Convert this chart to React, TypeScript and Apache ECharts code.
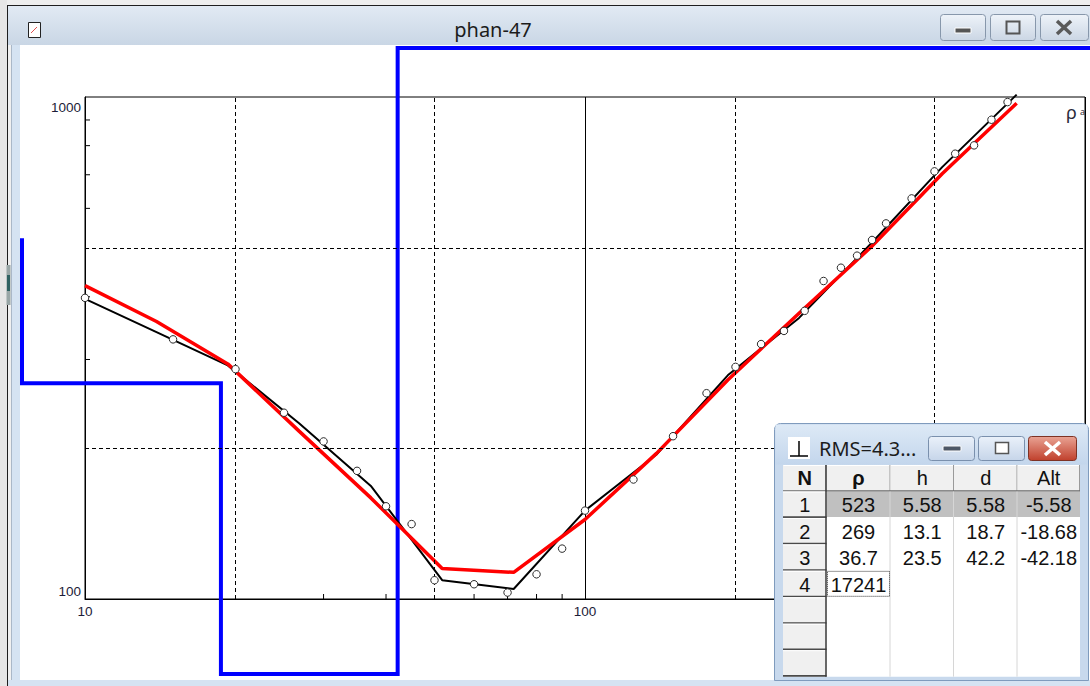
import React, { useEffect, useRef } from "react";
import * as echarts from "echarts";

// ---- Field data: AB/2 (m) and apparent resistivity (observed points) ----
const abHalf = [10, 15, 20, 25, 30, 35, 40, 45, 50, 60, 70, 80, 90, 100, 125, 150, 175, 200, 225, 250, 275, 300, 325, 350, 375, 400, 450, 500, 550, 600, 650, 700];
const rhoObserved = [398, 329, 287, 235, 206, 180, 153, 141, 109, 107, 103, 112, 126, 150, 173, 211, 257, 290, 322, 342, 375, 430, 457, 483, 519, 560, 628, 711, 771, 801, 901, 977];

// ---- Resampled curves (black = field curve, red = model curve) ----
const curveAb = [10, 13.9, 19.3, 26.8, 37.3, 51.8, 72, 100, 139, 193, 268, 373, 518, 730];
const rhoField = [396, 340, 292, 224, 168, 109, 104.7, 150, 194, 279, 363, 510, 725, 1011];
const rhoModel = [421, 357, 294, 216, 159, 115, 113, 144, 195, 273, 371, 502, 703, 972];

// ---- Layered model ----
const layerRho = [523, 269, 36.7, 17241];
const layerH = [5.58, 13.1, 23.5];
const layerD = [5.58, 18.7, 42.2];
const layerAlt = [-5.58, -18.68, -42.18];
const layerStartDepth = 1;
const layerEndDepth = 100000;

// ---- Axes decorations ----
const xMinorTicks = [30, 40, 60, 70, 80, 90, 300, 400, 600, 700, 800, 900];
const yMinorTicks = [300, 400, 600, 700, 800, 900];
const xDashed = [20, 50, 200, 500];
const yDashed = [200, 500];

// ---- Texts ----
const windowTitle = "phan-47";
const rmsTitle = "RMS=4.3...";
const tableHeaders = ["N", "ρ", "h", "d", "Alt"];
const rowNumbers = ["1", "2", "3", "4"];
const axisName = "ρ";
const axisNameSub = "a";

const SANS = '"Noto Sans", "DejaVu Sans", sans-serif';
const NARROW = '"Liberation Sans Narrow", "Liberation Sans", sans-serif';
const LABEL = '"Liberation Sans", "DejaVu Sans", sans-serif';

function buildGraphic(): any[] {
  const els: any[] = [];
  let z2 = 0;
  const push = (el: any) => {
    el.z = 100;
    el.z2 = z2++;
    el.silent = true;
    els.push(el);
  };
  const grad = (a: string, b: string) =>
    new echarts.graphic.LinearGradient(0, 0, 0, 1, [
      { offset: 0, color: a },
      { offset: 1, color: b },
    ]);
  const R = (x: number, y: number, w: number, h: number, fill: any, stroke?: string, r?: any, lw?: number) =>
    push({ type: "rect", shape: { x, y, width: w, height: h, r: r || 0 }, style: { fill, stroke: stroke || undefined, lineWidth: lw || 1 } });
  const L = (x1: number, y1: number, x2: number, y2: number, stroke: string, lw = 1, dash?: number[]) =>
    push({ type: "line", shape: { x1, y1, x2, y2 }, style: { stroke, lineWidth: lw, lineDash: dash } });
  const T = (x: number, y: number, text: string, size: number, family: string, fill = "#1a1a1a", weight = "normal", align = "center") =>
    push({
      type: "text",
      x,
      y,
      style: {
        text,
        fontSize: size,
        fontFamily: family,
        fontWeight: weight,
        fill,
        align,
        verticalAlign: "middle",
        textAlign: align,
        textVerticalAlign: "middle",
      },
    });

  // ---- main window chrome ----
  R(0, 0, 1090, 5, "#eeeeee");
  R(0, 0, 7, 686, "#e6e6e6");
  R(7, 5, 1083, 40, grad("#e2eaf4", "#c9d6e5"));
  L(7, 5.5, 1090, 5.5, "#1e1e1e", 1);
  L(7.5, 5, 7.5, 686, "#1e1e1e", 1);
  R(8, 45, 12, 641, "#d5e3f2");
  R(8, 45, 3, 641, "#f0f0f0");
  L(11.5, 45, 11.5, 686, "#aab8c8", 1);
  R(8, 680, 1082, 6, "#d5e3f2");
  R(6.5, 265, 4, 40, "#98a6a6");
  R(7, 275, 3, 16, "#2f6262");
  // icon
  R(28.5, 22.5, 12, 15, "#ffffff", "#222222", 0, 1);
  L(31, 33, 37, 27, "#e05050", 1);
  // title
  T(493, 29, windowTitle, 20, SANS, "#1c1c1c");
  // caption buttons
  const btnFill = grad("#eef3f9", "#cbd6e4");
  R(940.5, 14.5, 45, 26, btnFill, "#8797ab", 3, 1);
  R(990.5, 14.5, 45, 26, btnFill, "#8797ab", 3, 1);
  R(1040.5, 14.5, 48, 26, btnFill, "#8797ab", 3, 1);
  R(955, 28, 16, 5, "#555555", "#ffffff", 0, 1);
  R(1006.5, 21.5, 13, 12, "none", "#555555", 0, 2);
  L(1057, 21, 1071, 34, "#5a5a5a", 3.5);
  L(1071, 21, 1057, 34, "#5a5a5a", 3.5);

  // ---- y-axis name ----
  T(1071.5, 112, axisName, 18, SANS, "#2a2a3a");
  T(1082.5, 111.5, axisNameSub, 9, SANS, "#2a2a3a");

  // ---- RMS table window ----
  R(774.5, 423.5, 314, 257, "#c8d9ed", "#7f9bbd", [6, 6, 0, 0], 1);
  R(775.5, 424.5, 312, 40, grad("#dde9f6", "#c3d6ec"));
  // icon
  R(788, 437, 22, 22, "#ffffff");
  L(799, 441, 799, 456, "#000000", 1.5);
  L(790, 456, 808, 456, "#000000", 1.5);
  T(819, 448, rmsTitle, 20, SANS, "#1c1c1c", "normal", "left");
  // buttons
  const smallBtn = grad("#eaf1fa", "#c6d5e9");
  R(928.5, 436.5, 46, 24, smallBtn, "#7a90ad", 3, 1);
  R(978.5, 436.5, 46, 24, smallBtn, "#7a90ad", 3, 1);
  R(1028.5, 436.5, 48, 24, grad("#e9a394", "#c0402c"), "#7e3224", 3, 1);
  R(943, 446, 18, 5, "#4d5766", "#ffffff", 1, 1);
  R(995.5, 442.5, 13, 11, "#ffffff", "#555555", 0, 1.5);
  L(1045, 442, 1060, 455, "#ffffff", 3.5);
  L(1060, 442, 1045, 455, "#ffffff", 3.5);

  // table body
  const colX = [783, 826.5, 890.5, 954, 1017.5, 1080];
  const headTop = 465;
  const rowTop0 = 491.5;
  const rowH = 26.45;
  const nRows = 7;
  const bottom = rowTop0 + rowH * nRows;
  R(colX[0], headTop, colX[5] - colX[0], bottom - headTop, "#ffffff");
  // header cells
  for (let c = 0; c < 5; c++) {
    R(colX[c], headTop, colX[c + 1] - colX[c], rowTop0 - headTop, "#f0f0f0");
    L(colX[c] + 0.5, headTop + 0.5, colX[c + 1] - 1, headTop + 0.5, "#ffffff", 1);
    L(colX[c + 1] - 0.5, headTop, colX[c + 1] - 0.5, rowTop0, "#9a9a9a", 1);
  }
  L(colX[0], rowTop0 - 0.5, colX[5], rowTop0 - 0.5, "#6a6a6a", 1.5);
  // selected row
  R(colX[1], rowTop0, colX[5] - colX[1], rowH - 1, "#c0c0c0");
  // data column separators
  for (let c = 2; c < 5; c++) L(colX[c] - 0.5, rowTop0, colX[c] - 0.5, bottom, "#d6d6d6", 1);
  // N column cells
  for (let r = 0; r < nRows; r++) {
    const y = rowTop0 + r * rowH;
    R(colX[0], y, colX[1] - colX[0], rowH, "#f0f0f0");
    L(colX[0], y + 0.5, colX[1] - 1, y + 0.5, "#ffffff", 1);
    L(colX[0], y + rowH - 0.8, colX[1], y + rowH - 0.8, "#4a4a4a", 1.6);
  }
  L(colX[1] - 0.5, headTop, colX[1] - 0.5, bottom, "#3a3a3a", 1.5);
  // header texts
  const hc = (headTop + rowTop0) / 2;
  tableHeaders.forEach((h, c) => T((colX[c] + colX[c + 1]) / 2, hc, h, 20, NARROW, "#111111", c <= 1 ? "bold" : "normal"));
  // rows
  for (let r = 0; r < layerRho.length; r++) {
    const cy = rowTop0 + rowH * (r + 0.5);
    const cells = [
      rowNumbers[r],
      String(layerRho[r]),
      r < layerH.length ? String(layerH[r]) : "",
      r < layerD.length ? String(layerD[r]) : "",
      r < layerAlt.length ? String(layerAlt[r]) : "",
    ];
    cells.forEach((t, c) => {
      if (t) T((colX[c] + colX[c + 1]) / 2, cy + 0.5, t, 20, NARROW, "#111111");
    });
  }
  // focus cell
  const fy = rowTop0 + rowH * 3;
  R(colX[1] + 1, fy + 0.5, colX[2] - colX[1] - 2, rowH - 1.5, "none", "#333333", 0, 1);
  els[els.length - 1].style.lineDash = [1, 1];

  return els;
}

function buildOption(): any {
  const labelColor = "#1c1c38";
  const fs = 13.5;
  return {
    animation: false,
    backgroundColor: "#ffffff",
    textStyle: { fontFamily: SANS },
    grid: { left: 85, top: 97, width: 1000, height: 502, show: true, borderColor: "#000000", borderWidth: 1, backgroundColor: "transparent" },
    xAxis: {
      type: "log",
      logBase: 10,
      min: 10,
      max: 1000,
      axisLine: { show: true, lineStyle: { color: "#000000", width: 1 } },
      axisTick: { show: false },
      splitLine: { show: true, lineStyle: { color: "#000000", width: 1 } },
      axisLabel: { show: true, margin: 5, fontSize: fs, fontFamily: LABEL, color: labelColor, showMaxLabel: false },
    },
    yAxis: {
      type: "log",
      logBase: 10,
      min: 100,
      max: 1000,
      axisLine: { show: true, lineStyle: { color: "#000000", width: 1 } },
      axisTick: { show: false },
      splitLine: { show: false },
      axisLabel: {
        show: true,
        margin: 4,
        fontSize: fs,
        fontFamily: LABEL,
        color: labelColor,
        formatter: (v: number) => (v > 500 ? `{t|${Math.round(v)}}` : `{b|${Math.round(v)}}`),
        rich: {
          t: { padding: [20, 0, 0, 0], fontSize: fs, fontFamily: LABEL, color: labelColor },
          b: { padding: [0, 0, 16, 0], fontSize: fs, fontFamily: LABEL, color: labelColor },
        },
      },
    },
    series: [
      {
        type: "line",
        data: [],
        z: 1,
        silent: true,
        markLine: {
          silent: true,
          symbol: ["none", "none"],
          label: { show: false },
          lineStyle: { color: "#000000", width: 1, type: [4, 3] },
          data: [...xDashed.map((v) => ({ xAxis: v })), ...yDashed.map((v) => ({ yAxis: v }))],
        },
      },
      {
        type: "custom",
        z: 2,
        silent: true,
        encode: { x: 0, y: 1 },
        data: xMinorTicks.map((v) => [v, 100]),
        renderItem: (_p: any, api: any) => {
          const c = api.coord([api.value(0), api.value(1)]);
          return { type: "line", shape: { x1: c[0], y1: c[1], x2: c[0], y2: c[1] - 5 }, style: { stroke: "#000000", lineWidth: 1 } };
        },
      },
      {
        type: "custom",
        z: 2,
        silent: true,
        encode: { x: 0, y: 1 },
        data: yMinorTicks.map((v) => [10, v]),
        renderItem: (_p: any, api: any) => {
          const c = api.coord([api.value(0), api.value(1)]);
          return { type: "line", shape: { x1: c[0], y1: c[1], x2: c[0] + 5, y2: c[1] }, style: { stroke: "#000000", lineWidth: 1 } };
        },
      },
      {
        type: "custom",
        z: 2,
        silent: true,
        clip: false,
        encode: { x: 0, y: 1 },
        data: [[layerD[1], layerRho[1]]],
        renderItem: (_p: any, api: any) => {
          const depths = [layerStartDepth, ...layerD, layerEndDepth];
          const pts: number[][] = [];
          for (let i = 0; i < layerRho.length; i++) {
            pts.push(api.coord([depths[i], layerRho[i]]));
            pts.push(api.coord([depths[i + 1], layerRho[i]]));
          }
          const clipped = pts.map((p) => [Math.min(1092, Math.max(22, p[0])), Math.min(674, Math.max(48, p[1]))]);
          return {
            type: "polyline",
            shape: { points: clipped },
            style: { stroke: "#0000ff", lineWidth: 4, fill: "none", lineJoin: "miter" },
          };
        },
      },
      {
        type: "line",
        z: 3,
        clip: false,
        silent: true,
        showSymbol: false,
        symbol: "none",
        data: curveAb.map((x, i) => [x, rhoField[i]]),
        lineStyle: { color: "#000000", width: 2 },
      },
      {
        type: "line",
        z: 4,
        clip: false,
        silent: true,
        showSymbol: false,
        symbol: "none",
        data: curveAb.map((x, i) => [x, rhoModel[i]]),
        lineStyle: { color: "#ff0000", width: 3.5 },
      },
      {
        type: "scatter",
        z: 5,
        silent: true,
        symbol: "circle",
        symbolSize: 7.5,
        data: abHalf.map((x, i) => [x, rhoObserved[i]]),
        itemStyle: { color: "#ffffff", borderColor: "#2a2a2a", borderWidth: 1, opacity: 1 },
      },
    ],
    graphic: { elements: buildGraphic() },
  };
}

export default function App() {
  const ref = useRef<HTMLDivElement>(null);
  useEffect(() => {
    if (!ref.current) return;
    const chart = echarts.init(ref.current, null, { renderer: "svg" });
    chart.setOption(buildOption());
    return () => chart.dispose();
  }, []);
  return <div ref={ref} style={{ position: "fixed", left: 0, top: 0, width: 1090, height: 686 }} />;
}
